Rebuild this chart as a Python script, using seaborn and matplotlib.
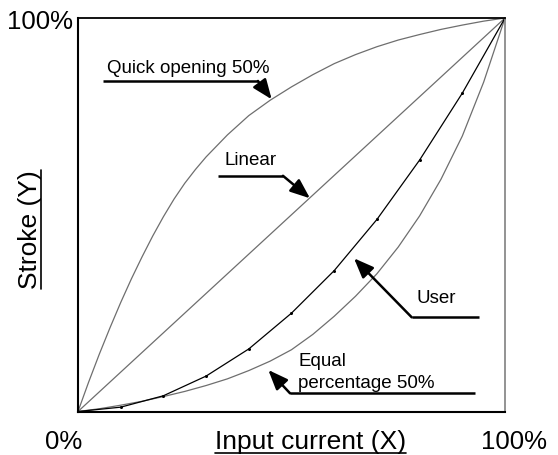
import seaborn as sns
import matplotlib.pyplot as plt
from matplotlib.lines import Line2D
import pandas as pd

sns.set_style("white")
plt.rcParams['font.family'] = ['Liberation Sans', 'DejaVu Sans']
plt.rcParams['text.color'] = 'black'

# input current (fraction of full scale) and stroke values
x_quick = [0, 0.025, 0.05, 0.075, 0.1, 0.125, 0.15, 0.175, 0.2, 0.225, 0.25, 0.275, 0.3,
           0.35, 0.4, 0.45, 0.5, 0.55, 0.6, 0.65, 0.7, 0.75, 0.8, 0.85, 0.9, 0.95, 1.0]
quick = [0, 0.075, 0.146, 0.213, 0.277, 0.337, 0.393, 0.446, 0.495, 0.540, 0.580, 0.615, 0.647,
         0.703, 0.752, 0.791, 0.825, 0.856, 0.884, 0.907, 0.927, 0.944, 0.958, 0.971, 0.982, 0.992, 1.0]
x_equal = [0, 0.05, 0.1, 0.15, 0.2, 0.25, 0.3, 0.35, 0.4, 0.45, 0.5,
           0.55, 0.6, 0.65, 0.7, 0.75, 0.8, 0.85, 0.9, 0.95, 1.0]
equal = [0, 0.007, 0.016, 0.026, 0.038, 0.051, 0.066, 0.083, 0.104, 0.128, 0.157,
         0.196, 0.242, 0.293, 0.350, 0.418, 0.497, 0.590, 0.700, 0.837, 1.0]
x_lin = [0, 1.0]
linear = [0, 1.0]
x_user = [0, 0.1, 0.2, 0.3, 0.4, 0.5, 0.6, 0.7, 0.8, 0.9, 1.0]
user = [0, 0.011, 0.040, 0.090, 0.159, 0.250, 0.358, 0.488, 0.639, 0.809, 1.0]

df_quick = pd.DataFrame({"x": x_quick, "y": quick})
df_lin = pd.DataFrame({"x": x_lin, "y": linear})
df_eq = pd.DataFrame({"x": x_equal, "y": equal})
df_user = pd.DataFrame({"x": x_user, "y": user})

fig = plt.figure(figsize=(5.58, 4.55), dpi=100)
ax = fig.add_axes([78 / 558, 43.5 / 455, 427 / 558, 393.5 / 455])

grey = "#6e6e6e"
sns.lineplot(data=df_quick, x="x", y="y", ax=ax, color=grey, lw=0.9)
sns.lineplot(data=df_lin, x="x", y="y", ax=ax, color=grey, lw=0.9)
sns.lineplot(data=df_eq, x="x", y="y", ax=ax, color=grey, lw=0.9)
sns.lineplot(data=df_user, x="x", y="y", ax=ax, color="black", lw=0.9,
             marker="o", markersize=2.2, markeredgewidth=0)

ax.set_xlim(0, 1)
ax.set_ylim(0, 1)
ax.set_xticks([])
ax.set_yticks([])
ax.set_xlabel("")
ax.set_ylabel("")
for side, c, w in [("left", "black", 1.5), ("bottom", "black", 1.5),
                   ("top", "black", 1.3), ("right", "#8a8a8a", 1.3)]:
    ax.spines[side].set_color(c)
    ax.spines[side].set_linewidth(w)
    ax.spines[side].set_visible(True)

fs_tick = 18.5
ax.text(-0.088, 0.99, "100%", transform=ax.transAxes, ha="center", va="center", fontsize=fs_tick)
ax.text(-0.034, -0.077, "0%", transform=ax.transAxes, ha="center", va="center", fontsize=fs_tick)
ax.text(1.02, -0.077, "100%", transform=ax.transAxes, ha="center", va="center", fontsize=fs_tick)

xl = ax.text(0.545, -0.077, "Input current (X)", transform=ax.transAxes,
             ha="center", va="center", fontsize=19)
yl = ax.text(-0.112, 0.463, "Stroke (Y)", transform=ax.transAxes, rotation=90,
             ha="center", va="center", fontsize=19)

# annotations: leader line + arrow
arrow = dict(arrowstyle="-|>,head_length=0.6,head_width=0.24", color="black",
             lw=1.8, mutation_scale=20, shrinkA=0, shrinkB=0)
fs_ann = 13.5

def leader(x0, x1, y, tip, start=None):
    ax.plot([x0, x1], [y, y], color="black", lw=1.8, solid_capstyle="butt")
    s = start if start is not None else (x1, y)
    ax.annotate("", xy=tip, xytext=s, arrowprops=arrow)

leader(0.0585, 0.4215, 0.840, (0.4536, 0.7934))
ax.text(0.0672, 0.872, "Quick opening 50%", fontsize=fs_ann, va="center")

leader(0.327, 0.480, 0.599, (0.5433, 0.5418))
ax.text(0.342, 0.639, "Linear", fontsize=fs_ann, va="center")

leader(0.7815, 0.940, 0.2394, (0.6464, 0.3893), start=(0.7815, 0.2394))
ax.text(0.7916, 0.2877, "User", fontsize=fs_ann, va="center")

leader(0.4965, 0.9297, 0.0463, (0.4457, 0.1055), start=(0.4965, 0.0463))
ax.text(0.516, 0.128, "Equal", fontsize=fs_ann, va="center")
ax.text(0.516, 0.0717, "percentage 50%", fontsize=fs_ann, va="center")

# underline axis labels
fig.canvas.draw()
r = fig.canvas.get_renderer()
bb = xl.get_window_extent(r)
fig.add_artist(Line2D([bb.x0, bb.x1], [bb.y0 + 1, bb.y0 + 1], color="black", lw=1.2,
                      transform=None))
bb = yl.get_window_extent(r)
fig.add_artist(Line2D([bb.x1 - 1, bb.x1 - 1], [bb.y0, bb.y1], color="black", lw=1.2,
                      transform=None))

fig.savefig("out.png", dpi=100)
